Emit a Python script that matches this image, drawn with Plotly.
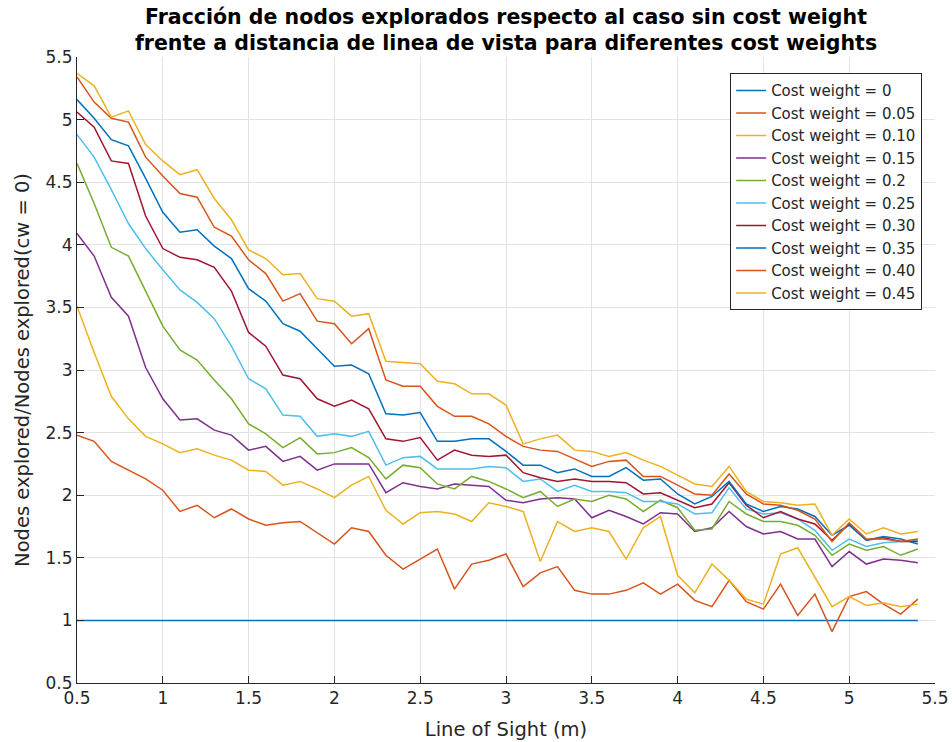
import plotly.graph_objects as go

line_of_sight = [round(0.5 + 0.1 * i, 1) for i in range(50)]

cw_labels = ["Cost weight = 0", "Cost weight = 0.05", "Cost weight = 0.10", "Cost weight = 0.15",
             "Cost weight = 0.2", "Cost weight = 0.25", "Cost weight = 0.30", "Cost weight = 0.35",
             "Cost weight = 0.40", "Cost weight = 0.45"]

cw_000 = [1.0] * 50
cw_005 = [2.48, 2.43, 2.27, 2.20, 2.13, 2.04, 1.87, 1.92, 1.82, 1.89,
          1.81, 1.76, 1.78, 1.79, 1.70, 1.61, 1.74, 1.71, 1.52, 1.41,
          1.49, 1.57, 1.25, 1.45, 1.48, 1.53, 1.27, 1.38, 1.43, 1.24,
          1.21, 1.21, 1.24, 1.30, 1.21, 1.29, 1.16, 1.11, 1.32, 1.15,
          1.09, 1.29, 1.04, 1.21, 0.91, 1.19, 1.23, 1.13, 1.05, 1.17]
cw_010 = [3.51, 3.14, 2.79, 2.61, 2.47, 2.41, 2.34, 2.37, 2.32, 2.28,
          2.20, 2.19, 2.08, 2.11, 2.05, 1.98, 2.08, 2.15, 1.88, 1.77,
          1.86, 1.87, 1.85, 1.79, 1.94, 1.91, 1.87, 1.47, 1.79, 1.71,
          1.74, 1.71, 1.49, 1.74, 1.83, 1.36, 1.22, 1.45, 1.32, 1.17,
          1.13, 1.53, 1.58, 1.35, 1.11, 1.19, 1.12, 1.14, 1.11, 1.13]
cw_015 = [4.09, 3.91, 3.58, 3.43, 3.02, 2.77, 2.60, 2.61, 2.52, 2.48,
          2.36, 2.39, 2.27, 2.31, 2.20, 2.25, 2.25, 2.25, 2.02, 2.10,
          2.07, 2.05, 2.09, 2.08, 2.07, 1.96, 1.94, 1.97, 1.98, 1.97,
          1.82, 1.88, 1.83, 1.77, 1.86, 1.85, 1.71, 1.74, 1.87, 1.75,
          1.69, 1.71, 1.65, 1.65, 1.43, 1.55, 1.45, 1.49, 1.48, 1.46]
cw_020 = [4.65, 4.33, 3.98, 3.91, 3.63, 3.35, 3.16, 3.08, 2.92, 2.77,
          2.57, 2.49, 2.38, 2.46, 2.33, 2.34, 2.38, 2.30, 2.13, 2.24,
          2.22, 2.09, 2.05, 2.15, 2.11, 2.05, 1.98, 2.03, 1.91, 1.97,
          1.95, 2.00, 1.97, 1.87, 1.96, 1.90, 1.72, 1.73, 1.95, 1.85,
          1.79, 1.79, 1.76, 1.68, 1.52, 1.61, 1.56, 1.59, 1.52, 1.57]
cw_025 = [4.88, 4.70, 4.44, 4.17, 3.97, 3.80, 3.64, 3.54, 3.41, 3.19,
          2.93, 2.85, 2.64, 2.63, 2.47, 2.49, 2.47, 2.51, 2.24, 2.30,
          2.31, 2.21, 2.21, 2.21, 2.23, 2.22, 2.11, 2.13, 2.03, 2.08,
          2.03, 2.03, 2.02, 1.95, 1.95, 1.93, 1.85, 1.86, 2.06, 1.89,
          1.85, 1.86, 1.81, 1.72, 1.56, 1.65, 1.59, 1.62, 1.63, 1.64]
cw_030 = [5.06, 4.94, 4.67, 4.65, 4.23, 3.97, 3.90, 3.88, 3.82, 3.63,
          3.30, 3.19, 2.96, 2.93, 2.77, 2.71, 2.76, 2.69, 2.45, 2.43,
          2.46, 2.28, 2.36, 2.32, 2.31, 2.32, 2.18, 2.14, 2.11, 2.13,
          2.11, 2.11, 2.10, 2.01, 2.02, 1.96, 1.90, 1.93, 2.10, 1.92,
          1.82, 1.87, 1.81, 1.77, 1.64, 1.77, 1.64, 1.66, 1.63, 1.63]
cw_035 = [5.16, 5.01, 4.84, 4.79, 4.53, 4.26, 4.10, 4.12, 3.99, 3.89,
          3.65, 3.55, 3.37, 3.31, 3.17, 3.03, 3.04, 2.97, 2.65, 2.64,
          2.66, 2.43, 2.43, 2.45, 2.45, 2.35, 2.24, 2.24, 2.18, 2.21,
          2.15, 2.15, 2.22, 2.12, 2.13, 2.01, 1.93, 1.99, 2.11, 1.93,
          1.87, 1.91, 1.89, 1.83, 1.68, 1.76, 1.64, 1.67, 1.65, 1.61]
cw_040 = [5.34, 5.14, 5.01, 4.98, 4.70, 4.55, 4.41, 4.38, 4.14, 4.07,
          3.88, 3.77, 3.55, 3.61, 3.39, 3.37, 3.21, 3.33, 2.92, 2.87,
          2.87, 2.71, 2.63, 2.63, 2.57, 2.47, 2.39, 2.36, 2.35, 2.29,
          2.23, 2.27, 2.28, 2.15, 2.15, 2.08, 2.01, 2.00, 2.17, 2.01,
          1.93, 1.92, 1.88, 1.81, 1.63, 1.78, 1.65, 1.65, 1.63, 1.65]
cw_045 = [5.37, 5.27, 5.02, 5.07, 4.80, 4.67, 4.56, 4.60, 4.37, 4.20,
          3.96, 3.89, 3.76, 3.77, 3.57, 3.55, 3.43, 3.45, 3.07, 3.06,
          3.05, 2.91, 2.89, 2.81, 2.81, 2.72, 2.41, 2.45, 2.48, 2.36,
          2.35, 2.31, 2.34, 2.28, 2.23, 2.16, 2.09, 2.07, 2.23, 2.03,
          1.95, 1.94, 1.92, 1.93, 1.68, 1.81, 1.69, 1.74, 1.69, 1.71]

series = [cw_000, cw_005, cw_010, cw_015, cw_020, cw_025, cw_030, cw_035, cw_040, cw_045]
colors = ["#0072BD", "#D95319", "#EDB120", "#7E2F8E", "#77AC30",
          "#4DBEEE", "#A2142F", "#0072BD", "#D95319", "#EDB120"]

x_ticks = [0.5, 1, 1.5, 2, 2.5, 3, 3.5, 4, 4.5, 5, 5.5]
y_ticks = [0.5, 1, 1.5, 2, 2.5, 3, 3.5, 4, 4.5, 5, 5.5]

fig = go.Figure()
for name, ys, col in zip(cw_labels, series, colors):
    fig.add_trace(go.Scatter(x=line_of_sight, y=ys, mode="lines", name=name,
                             line=dict(color=col, width=1.5)))

FONT = "DejaVu Sans"
tick_font = dict(family=FONT, size=17, color="#262626")

fig.update_layout(
    width=952, height=742,
    margin=dict(l=77, r=17, t=57, b=59, autoexpand=False),
    paper_bgcolor="white", plot_bgcolor="white",
    title=dict(text="<b>Fracción de nodos explorados respecto al caso sin cost weight<br>frente a distancia de linea de vista para diferentes cost weights</b>",
               x=0.5, xref="paper", xanchor="center", y=0.968, yref="container", yanchor="top",
               font=dict(family=FONT, size=20.5, color="black")),
    xaxis=dict(range=[0.5, 5.5], tickvals=x_ticks, ticktext=[f"{v:g}" for v in x_ticks],
               showgrid=True, gridcolor="#e3e3e3", gridwidth=1, zeroline=False,
               showline=True, linecolor="#262626", linewidth=1, ticks="inside", ticklen=7,
               tickcolor="#262626", tickfont=tick_font,
               title=dict(text="Line of Sight (m)", font=dict(family=FONT, size=19.5, color="#262626"), standoff=14)),
    yaxis=dict(range=[0.5, 5.5], tickvals=y_ticks, ticktext=[f"{v:g}" for v in y_ticks],
               showgrid=True, gridcolor="#e3e3e3", gridwidth=1, zeroline=False,
               showline=True, linecolor="#262626", linewidth=1, ticks="inside", ticklen=7,
               tickcolor="#262626", tickfont=tick_font,
               title=dict(text="Nodes explored/Nodes explored(cw = 0)", font=dict(family=FONT, size=19.5, color="#262626"), standoff=10)),
    legend=dict(x=0.985, xanchor="right", y=0.974, yanchor="top",
                bgcolor="white", bordercolor="#262626", borderwidth=1,
                font=dict(family=FONT, size=15, color="#262626"),
                tracegroupgap=0),
    showlegend=True,
)

fig.write_html("out.html", config={"displayModeBar": False},
               post_script="document.body.style.margin='0';")
